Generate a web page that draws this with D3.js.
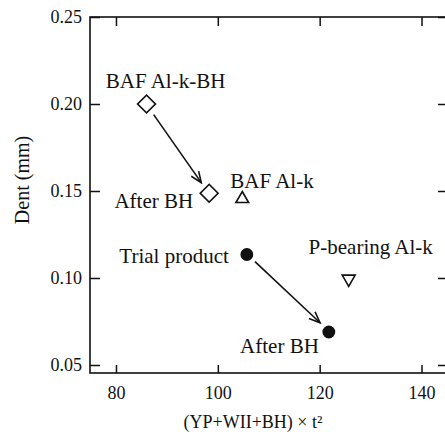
<!DOCTYPE html>
<html>
<head>
<meta charset="utf-8">
<script src="https://cdn.jsdelivr.net/npm/d3@7"></script>
<style>
  html, body { margin: 0; padding: 0; background: #fff; }
  svg { display: block; }
</style>
</head>
<body>
<svg id="chart" width="445" height="438"></svg>
<script>
// Samples: YP+WII+BH index times thickness squared vs. dent depth
const names = ["BAF Al-k-BH", "After BH", "BAF Al-k", "Trial product", "P-bearing Al-k", "After BH"];
const xValues = [86.0, 98.3, 104.8, 105.7, 125.7, 121.8];
const dentValues = [0.200, 0.1487, 0.1455, 0.1135, 0.0995, 0.069];
const markerKinds = ["diamond", "diamond", "triangleUp", "dot", "triangleDown", "dot"];

// Bake-hardening arrows: [from, to] as [x, dent]
const arrows = [
  [[87.4, 0.1939], [96.75, 0.1548]],
  [[107.3, 0.1094], [120.07, 0.0743]]
];

const xTicks = [80, 100, 120, 140];
const yTicks = [0.05, 0.10, 0.15, 0.20, 0.25];
const xTitle = "(YP+WII+BH) × t²";
const yTitle = "Dent (mm)";

const FONT = "'Liberation Serif', 'Times New Roman', serif";
const INK = "#111";

const svg = d3.select("#chart");
const plotLeft = 90, plotRight = 448, plotTop = 17, plotBottom = 373;

const x = d3.scaleLinear().domain([74.9, 145.2]).range([plotLeft, plotRight]);
const y = d3.scaleLinear().domain([0.0454, 0.25]).range([plotBottom, plotTop]);

// Frame
svg.append("rect")
  .attr("x", plotLeft).attr("y", plotTop)
  .attr("width", plotRight - plotLeft).attr("height", plotBottom - plotTop)
  .attr("fill", "none").attr("stroke", INK).attr("stroke-width", 1.6);

const fmt = d3.format(".2f");

function styleAxis(g) {
  g.attr("font-family", null);
  g.select(".domain").remove();
  g.selectAll(".tick line").attr("stroke", INK).attr("stroke-width", 1.5);
  g.selectAll(".tick text")
    .style("font-family", FONT)
    .style("font-size", "18px")
    .attr("fill", INK);
}

svg.append("g").attr("transform", `translate(0,${plotBottom})`)
  .call(d3.axisBottom(x).tickValues(xTicks).tickSizeInner(-8).tickSizeOuter(0).tickPadding(13).tickFormat(d3.format("d")))
  .call(styleAxis);

svg.append("g").attr("transform", `translate(0,${plotTop})`)
  .call(d3.axisTop(x).tickValues(xTicks).tickSizeInner(-9).tickSizeOuter(0).tickFormat(""))
  .call(styleAxis);

svg.append("g").attr("transform", `translate(${plotLeft},0)`)
  .call(d3.axisLeft(y).tickValues(yTicks).tickSizeInner(-10).tickSizeOuter(0).tickPadding(8).tickFormat(fmt))
  .call(styleAxis);

svg.append("g").attr("transform", `translate(${plotRight},0)`)
  .call(d3.axisRight(y).tickValues(yTicks).tickSizeInner(-10).tickSizeOuter(0).tickFormat(""))
  .call(styleAxis);

// Axis titles
svg.append("text")
  .attr("x", 253).attr("y", 428)
  .attr("text-anchor", "middle")
  .style("font-family", FONT).style("font-size", "18px").attr("fill", INK)
  .text(xTitle);

svg.append("text")
  .attr("transform", "translate(29,180) rotate(-90)")
  .attr("text-anchor", "middle")
  .style("font-family", FONT).style("font-size", "20px").attr("fill", INK)
  .text(yTitle);

// Arrow head
svg.append("defs").append("marker")
  .attr("id", "head")
  .attr("viewBox", "-12 -6 14 12")
  .attr("refX", 0).attr("refY", 0)
  .attr("markerWidth", 14).attr("markerHeight", 12)
  .attr("markerUnits", "userSpaceOnUse")
  .attr("orient", "auto")
  .append("path")
  .attr("d", "M-11,-4.5 L0,0 L-11,4.5")
  .attr("fill", "none").attr("stroke", INK).attr("stroke-width", 1.6);

svg.selectAll("line.arrow")
  .data(arrows)
  .join("line")
  .attr("class", "arrow")
  .attr("x1", d => x(d[0][0])).attr("y1", d => y(d[0][1]))
  .attr("x2", d => x(d[1][0])).attr("y2", d => y(d[1][1]))
  .attr("stroke", INK).attr("stroke-width", 1.6)
  .attr("marker-end", "url(#head)");

// Markers
const points = names.map((n, i) => ({ name: n, x: xValues[i], dent: dentValues[i], kind: markerKinds[i] }));

const symbolFor = {
  diamond: { path: d3.symbol(d3.symbolSquare, 160)(), rot: 45, fill: "none" },
  triangleUp: { path: d3.symbol(d3.symbolTriangle, 70)(), rot: 0, fill: "none" },
  triangleDown: { path: d3.symbol(d3.symbolTriangle, 72)(), rot: 180, fill: "none" },
  dot: { path: d3.symbol(d3.symbolCircle, 100)(), rot: 0, fill: INK }
};

svg.selectAll("path.pt")
  .data(points)
  .join("path")
  .attr("class", "pt")
  .attr("d", d => symbolFor[d.kind].path)
  .attr("transform", d => `translate(${x(d.x)},${y(d.dent)}) rotate(${symbolFor[d.kind].rot})`)
  .attr("fill", d => symbolFor[d.kind].fill)
  .attr("stroke", INK)
  .attr("stroke-width", 1.6);

// Point labels: offset from each marker and text anchor
const labelOffsets = [
  { dx: 19, dy: -16, anchor: "middle" },
  { dx: -16, dy: 15, anchor: "end" },
  { dx: -12, dy: -11, anchor: "start" },
  { dx: -18, dy: 8, anchor: "end" },
  { dx: 22, dy: -25, anchor: "middle" },
  { dx: -10, dy: 21, anchor: "end" }
];

svg.selectAll("text.lbl")
  .data(points)
  .join("text")
  .attr("class", "lbl")
  .attr("x", (d, i) => x(d.x) + labelOffsets[i].dx)
  .attr("y", (d, i) => y(d.dent) + labelOffsets[i].dy)
  .attr("text-anchor", (d, i) => labelOffsets[i].anchor)
  .style("font-family", FONT).style("font-size", "21px").attr("fill", INK)
  .text(d => d.name);
</script>
</body>
</html>
